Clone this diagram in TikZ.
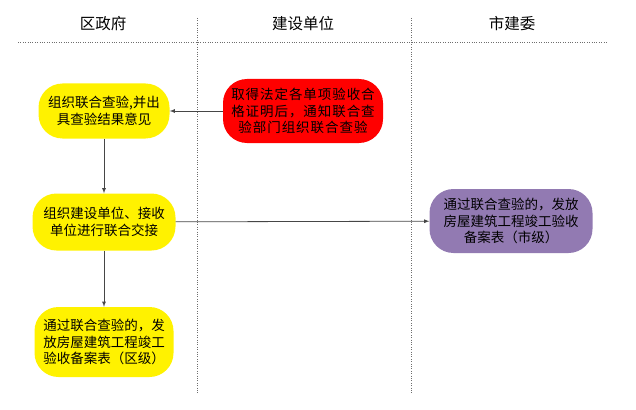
\documentclass[tikz,border=0pt]{standalone}
\usepackage{fontspec}
\newfontfamily\cjk{Noto Sans CJK SC}
\newfontfamily\cjkwide[LetterSpace=7]{Noto Sans CJK SC}
\definecolor{lanegray}{RGB}{110,110,110}
\definecolor{linkgray}{RGB}{70,70,70}
\definecolor{boxpurple}{RGB}{146,122,178}
\begin{document}
\begin{tikzpicture}[x=1pt,y=1pt,
  boxnode/.style={draw=none,rounded corners=24pt,align=center,inner sep=2pt,
    font=\cjk\fontsize{13.5}{16.5}\selectfont},
  lanehead/.style={font=\cjk\fontsize{15.5}{18}\selectfont},
  link/.style={-latex,linkgray,line width=0.8pt}]
\useasboundingbox (0,0) rectangle (636,-409);
\draw[lanegray,dotted] (18,-42) -- (607,-42);
\foreach \x in {197,411}
\draw[lanegray,dotted] (\x,-18) -- (\x,-393);
\node[lanehead] (h1) at (103,-24) {区政府};
\node[lanehead] (h2) at (303,-24) {建设单位};
\node[lanehead] (h3) at (512,-24) {市建委};
\node[boxnode,fill=yellow,minimum width=131pt,minimum height=55pt] (check) at (104,-111)
  {组织联合查验,并出\\具查验结果意见};
\node[boxnode,fill=red,minimum width=160pt,minimum height=64pt,
  font=\cjkwide\fontsize{13.5}{16.5}\selectfont] (notice) at (303,-111)
  {取得法定各单项验收合\\格证明后，通知联合查\\验部门组织联合查验};
\node[boxnode,fill=yellow,minimum width=143pt,minimum height=57pt] (handover) at (104,-222)
  {组织建设单位、接收\\单位进行联合交接};
\node[boxnode,fill=boxpurple,minimum width=163pt,minimum height=64pt] (cityform) at (511,-221)
  {通过联合查验的，发放\\房屋建筑工程竣工验收\\备案表（市级）};
\node[boxnode,fill=yellow,minimum width=139pt,minimum height=70pt] (distform) at (104,-342)
  {通过联合查验的，发\\放房屋建筑工程竣工\\验收备案表（区级）};
\draw[link] (notice) -- (check);
\draw[link] (check) -- (handover);
\draw[link] (handover) -- (distform);
\draw[link] (handover) -- (cityform);
\end{tikzpicture}
\end{document}
